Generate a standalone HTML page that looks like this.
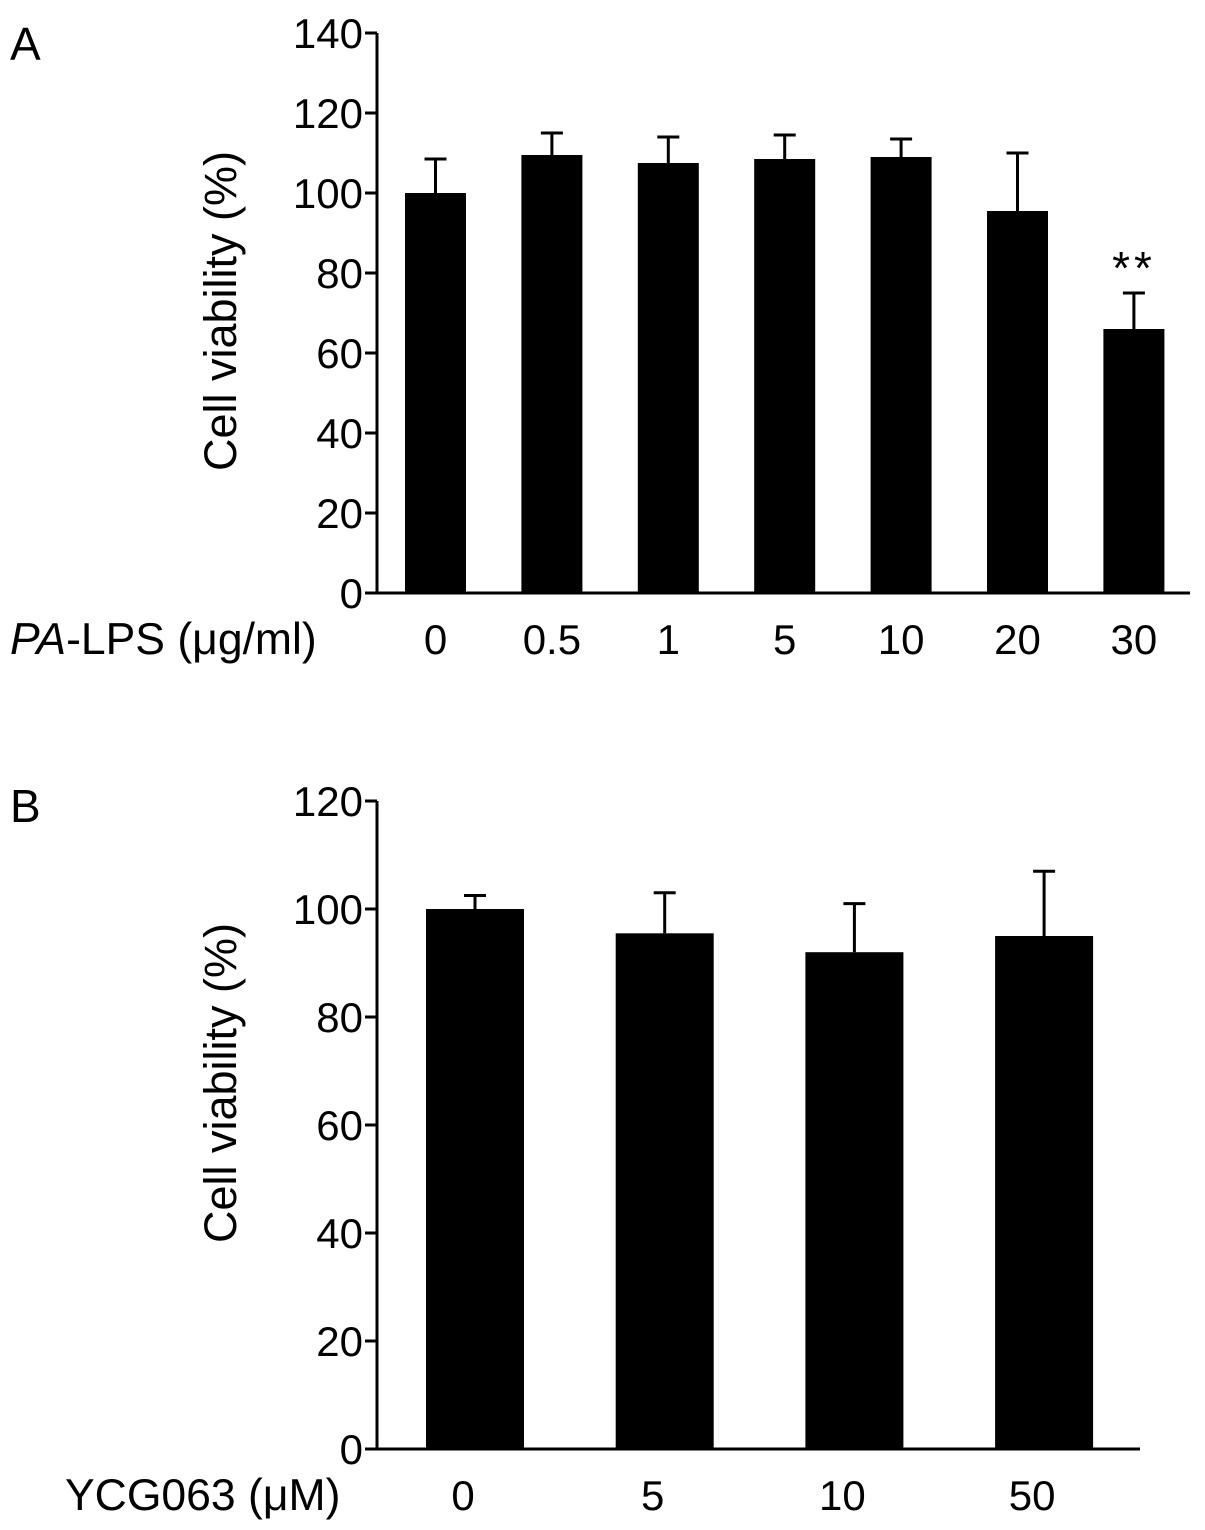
<!DOCTYPE html>
<html><head><meta charset="utf-8"><style>
body{margin:0;background:#fff;}
svg{display:block;font-family:"Liberation Sans",Arial,sans-serif;}
</style></head><body>
<svg id="chart" width="1205" height="1530" viewBox="0 0 1205 1530">
<text x="10" y="60" font-size="46">A</text>
<text x="10" y="822" font-size="46">B</text>
<g id="pa"></g>
<g id="pb"></g>
</svg>
<script>
const catsA=["0","0.5","1","5","10","20","30"];
const valsA=[100,109.5,107.5,108.5,109,95.5,66];
const errsA=[8.5,5.5,6.5,6,4.5,14.5,9];
const ticksA=[0,20,40,60,80,100,120,140];
const catsB=["0","5","10","50"];
const valsB=[100,95.5,92,95];
const errsB=[2.5,7.5,9,12];
const ticksB=[0,20,40,60,80,100,120];
const NS="http://www.w3.org/2000/svg";
function mk(parent,tag,attrs,text){const e=document.createElementNS(NS,tag);for(const k in attrs)e.setAttribute(k,attrs[k]);if(text!==undefined)e.textContent=text;parent.appendChild(e);return e;}
function draw(g,cfg){
  const y=v=>cfg.y0-(v/cfg.ymax)*(cfg.y0-cfg.ytop);
  const x=i=>cfg.x0+i*cfg.step;
  let ax=mk(g,'line',{x1:cfg.ax,y1:cfg.ytop,x2:cfg.ax,y2:cfg.y0,stroke:'#000','stroke-width':3});
  
  
  let bx=mk(g,'line',{x1:cfg.ax,y1:cfg.y0,x2:cfg.axEnd,y2:cfg.y0,stroke:'#000','stroke-width':3});
  
  
  cfg.ticks.forEach(t=>{
    let tl=mk(g,'line',{x1:cfg.ax-12,y1:y(t),x2:cfg.ax,y2:y(t),stroke:'#000','stroke-width':3});
    
    
    let tt=mk(g,'text',{x:cfg.ax-14,y:y(t)+15,'text-anchor':'end','font-size':42},String(t));
    
    
  });
  cfg.cats.forEach((c,i)=>{
    const cx=x(i),top=y(cfg.vals[i]),et=y(cfg.vals[i]+cfg.errs[i]);
    let b=mk(g,'rect',{x:cx-cfg.bw/2,y:top,width:cfg.bw,height:cfg.y0-top,fill:'#000'});
    
    
    let e=mk(g,'path',{d:`M${cx},${top}V${et}M${cx-11},${et}H${cx+11}`,stroke:'#000','stroke-width':3,fill:'none'});
    
    
    let l=mk(g,'text',{x:cx+cfg.lo,y:cfg.y0+61,'text-anchor':'middle','font-size':42},c);
    
    
  });
  let yl=mk(g,'text',{x:0,y:0,transform:`translate(236,${cfg.ty}) rotate(-90)`,'text-anchor':'middle','font-size':45},'Cell viability (%)');
  
  
}
const ga=document.getElementById('pa'),gb=document.getElementById('pb');
draw(ga,{cats:catsA,vals:valsA,errs:errsA,ticks:ticksA,ymax:140,y0:593,ytop:33,ax:377,axEnd:1190,x0:435.5,step:116.4,bw:61,lo:0,ty:311});
draw(gb,{cats:catsB,vals:valsB,errs:errsB,ticks:ticksB,ymax:120,y0:1449,ytop:801,ax:377,axEnd:1140,x0:475,step:189.7,bw:98,lo:-12,ty:1083});
let t1=mk(ga,'text',{x:10,y:654,'font-size':44.5});


mk(t1,'tspan',{'font-style':'italic'},'PA');
mk(t1,'tspan',{},'-LPS (μg/ml)');
let t2=mk(gb,'text',{x:65,y:1510,'font-size':44.5},'YCG063 (μM)');


let s=mk(ga,'text',{x:1134,y:284,'text-anchor':'middle','font-size':46,'letter-spacing':'4'},'**');


</script>
</body></html>
